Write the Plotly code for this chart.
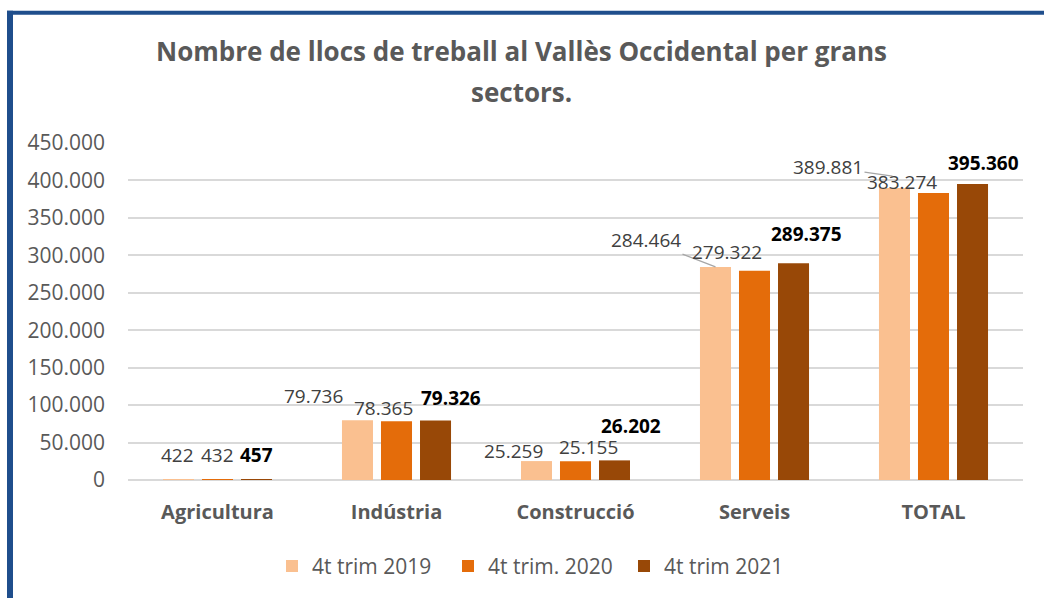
import plotly.graph_objects as go

# ---- data ----
categories = ["Agricultura", "Indústria", "Construcció", "Serveis", "TOTAL"]
series_names = ["4t trim 2019", "4t trim. 2020", "4t trim 2021"]
vals_2019 = [422, 79736, 25259, 284464, 389881]
vals_2020 = [432, 78365, 25155, 279322, 383274]
vals_2021 = [457, 79326, 26202, 289375, 395360]
y_ticks = [0, 50000, 100000, 150000, 200000, 250000, 300000, 350000, 400000, 450000]

# ---- style ----
W, H = 1044, 598
ML, MR, MT, MB = 128, 21, 142.7, 117.3
colors = ["#FAC090", "#E46C0A", "#984807"]
FONT = "Open Sans"
GRAY = "#595959"

def fmt(v):
    return f"{v:,}".replace(",", ".")

fig = go.Figure()
for name, vals, col in zip(series_names, [vals_2019, vals_2020, vals_2021], colors):
    fig.add_trace(go.Bar(x=categories, y=vals, name=name, marker_color=col,
                         marker_line_width=0))

# label placement (pixel offsets from bar top centre), per series per category
bar_off = [-39, 0, 39]
label_shift = [
    [(-1.5, 25), (-44.5, 24), (-23.5, 10), None, None],             # 2019
    [(0, 25), (-13.5, 13), (12.5, 14), (-27.5, 19), (-31.5, 11)],   # 2020
    [(0, 25), (15.5, 23), (16.5, 34), (12.5, 29), (10.5, 21)],      # 2021
]
# leader-line labels (ax, ay, extra yshift, extra xshift)
leader = {(0, 3): (-69.5, -27, 0, 0), (0, 4): (-64.5, -9, 12, -2)}

annotations = []
for s, vals in enumerate([vals_2019, vals_2020, vals_2021]):
    bold = s == 2
    for c, v in enumerate(vals):
        txt = f"<b>{fmt(v)}</b>" if bold else fmt(v)
        fcol = "#000000" if bold else "#404040"
        if (s, c) in leader:
            ax, ay, ys, xs = leader[(s, c)]
            annotations.append(dict(
                x=categories[c], y=v, xref="x", yref="y", text=txt,
                showarrow=True, arrowhead=0, arrowwidth=1.3, arrowcolor="#A6A6A6",
                ax=ax, ay=ay, xshift=bar_off[s] + xs, yshift=ys, standoff=0,
                font=dict(family=FONT, size=19, color=fcol)))
        else:
            dx, dy = label_shift[s][c]
            annotations.append(dict(
                x=categories[c], y=v, xref="x", yref="y", text=txt,
                showarrow=False, xanchor="center", yanchor="middle",
                xshift=bar_off[s] + dx, yshift=dy,
                font=dict(family=FONT, size=19, color=fcol)))

pw = W - ML - MR
ph = H - MT - MB
def px2x(px):
    return (px - ML) / pw
def py2y(py):
    return (H - MB - py) / ph

# title as two lines
annotations.append(dict(x=px2x(521), y=py2y(50), xref="paper", yref="paper",
                        text="<b>Nombre de llocs de treball al Vallès Occidental per grans</b>",
                        showarrow=False, xanchor="center", yanchor="middle",
                        font=dict(family=FONT, size=26, color=GRAY)))
annotations.append(dict(x=px2x(521), y=py2y(92), xref="paper", yref="paper",
                        text="<b>sectors.</b>",
                        showarrow=False, xanchor="center", yanchor="middle",
                        font=dict(family=FONT, size=26, color=GRAY)))

shapes = [
    dict(type="line", xref="paper", yref="paper", x0=px2x(10), x1=px2x(10),
         y0=py2y(10), y1=py2y(620), line=dict(color="#1F4E8C", width=6)),
    dict(type="line", xref="paper", yref="paper", x0=px2x(7), x1=px2x(1060),
         y0=py2y(12), y1=py2y(12), line=dict(color="#1F4E8C", width=4)),
]

fig.update_layout(
    width=W, height=H,
    margin=dict(l=ML, r=MR, t=MT, b=MB, pad=0),
    paper_bgcolor="white", plot_bgcolor="white",
    separators=",.",
    barmode="group", bargap=0.346, bargroupgap=0.205,
    font=dict(family=FONT, color=GRAY),
    xaxis=dict(showgrid=False, showline=False, ticks="",
               tickfont=dict(family=FONT, size=20, color=GRAY, weight="bold"),
               ticklabelstandoff=18),
    yaxis=dict(range=[0, 450000], tickvals=y_ticks, tickformat=",.0f",
               showgrid=True, gridcolor="#D9D9D9", gridwidth=1.5,
               zeroline=True, zerolinecolor="#D9D9D9", zerolinewidth=1.5,
               showline=False, ticks="",
               tickfont=dict(family=FONT, size=21, color=GRAY),
               ticklabelstandoff=22),
    legend=dict(orientation="h", x=px2x(536), xanchor="center",
                y=py2y(566), yanchor="middle",
                font=dict(family=FONT, size=21, color=GRAY),
                entrywidth=131, entrywidthmode="pixels",
                traceorder="normal"),
    annotations=annotations,
    shapes=shapes,
)

fig.write_html("out.html")
